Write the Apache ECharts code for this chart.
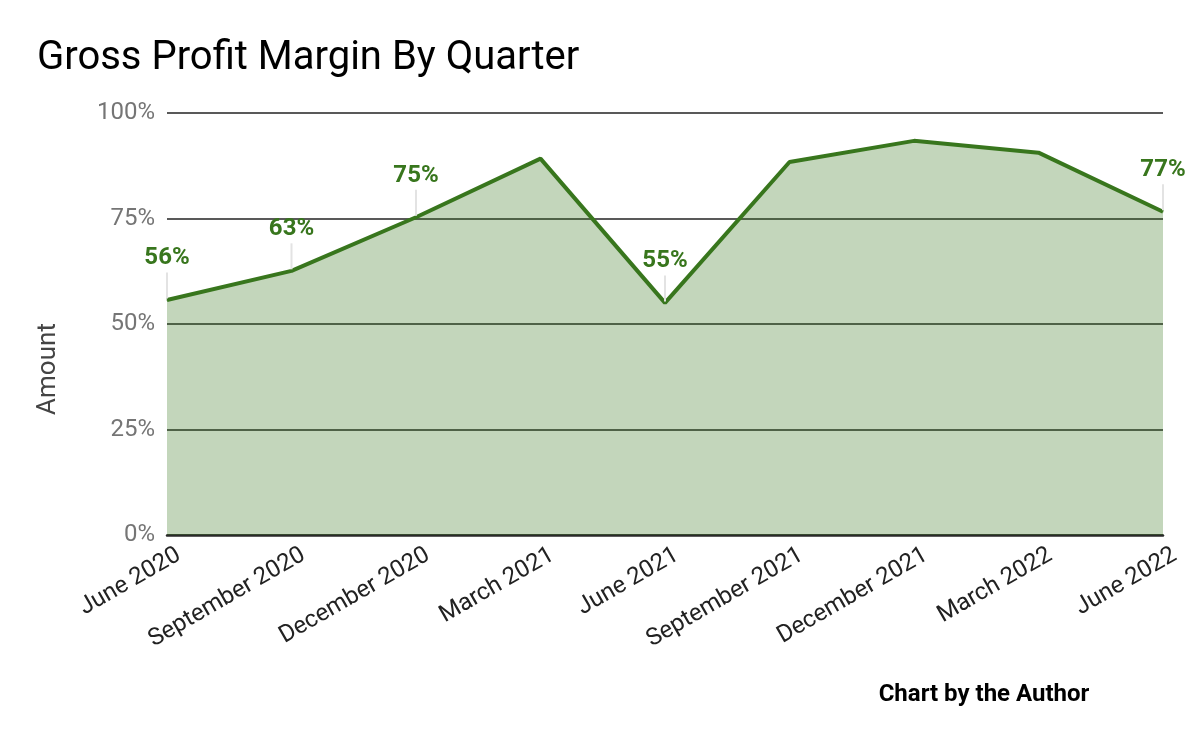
<!DOCTYPE html>
<html>
<head>
<meta charset="utf-8">
<script src="https://cdn.jsdelivr.net/npm/echarts@6/dist/echarts.min.js"></script>
<style>html,body{margin:0;padding:0;background:#fff;}#c{width:1200px;height:742px;}</style>
</head>
<body>
<div id="c"></div>
<script>
const categories = ['June 2020','September 2020','December 2020','March 2021','June 2021','September 2021','December 2021','March 2022','June 2022'];
const margins = [55.7, 62.6, 75.3, 89.2, 55.0, 88.4, 93.4, 90.6, 76.6];
const labeled = [true, true, true, false, true, false, false, false, true];
const yTicks = [0, 25, 50, 75, 100];

const chart = echarts.init(document.getElementById('c'), null, {renderer: 'canvas'});
const data = margins.map((v, i) => ({
  value: v,
  label: {show: labeled[i]}
}));
chart.setOption({
  animation: false,
  backgroundColor: '#ffffff',
  title: [{
    text: 'Gross Profit Margin By Quarter',
    left: 32, top: 34,
    textStyle: {fontFamily: 'Roboto', fontSize: 40, fontWeight: 'normal', color: '#000'}
  }, {
    text: 'Chart by the Author',
    left: 979, top: 678, textAlign: 'center',
    textStyle: {fontFamily: 'Roboto', fontSize: 24, fontWeight: 'bold', color: '#000'}
  }],
  graphic: [{
    type: 'text',
    x: 48, y: 369,
    rotation: Math.PI / 2,
    style: {text: 'Amount', fontFamily: 'Roboto', fontSize: 26, fill: '#444', align: 'center', verticalAlign: 'middle'}
  }],
  grid: {left: 167, right: 37, top: 113, bottom: 207},
  xAxis: {
    type: 'category',
    data: categories,
    boundaryGap: false,
    axisLine: {show: true, lineStyle: {color: '#2a2a2a', width: 2.5}},
    axisTick: {show: false},
    axisLabel: {interval: 0, rotate: 30, margin: 8, verticalAlign: 'top', padding: [3, -5, 0, 0], fontFamily: 'Roboto', fontSize: 24, color: '#222'}
  },
  yAxis: {
    type: 'value',
    min: yTicks[0], max: yTicks[yTicks.length - 1], interval: 25,
    axisLine: {show: false},
    axisTick: {show: false},
    axisLabel: {formatter: '{value}%', margin: 12, fontFamily: 'Roboto', fontSize: 24, color: '#757575'},
    splitLine: {lineStyle: {color: '#222', width: 1.5}}
  },
  series: [{
    type: 'line',
    data: data,
    symbol: 'circle',
    symbolSize: 1,
    showSymbol: true,
    itemStyle: {color: '#38761d'},
    lineStyle: {color: '#38761d', width: 4},
    areaStyle: {color: '#38761d', opacity: 0.3},
    label: {
      position: 'top',
      distance: 1,
      formatter: p => '{v|' + Math.round(p.value) + '%}\n{l| }',
      rich: {
        v: {fontFamily: 'Roboto', fontSize: 24, fontWeight: 'bold', color: '#38761d', lineHeight: 28, align: 'center'},
        l: {width: 2, height: 26, backgroundColor: '#e3e3e3', fontSize: 1, lineHeight: 26, align: 'center'}
      }
    },
    z: 3
  }]
});
</script>
</body>
</html>
